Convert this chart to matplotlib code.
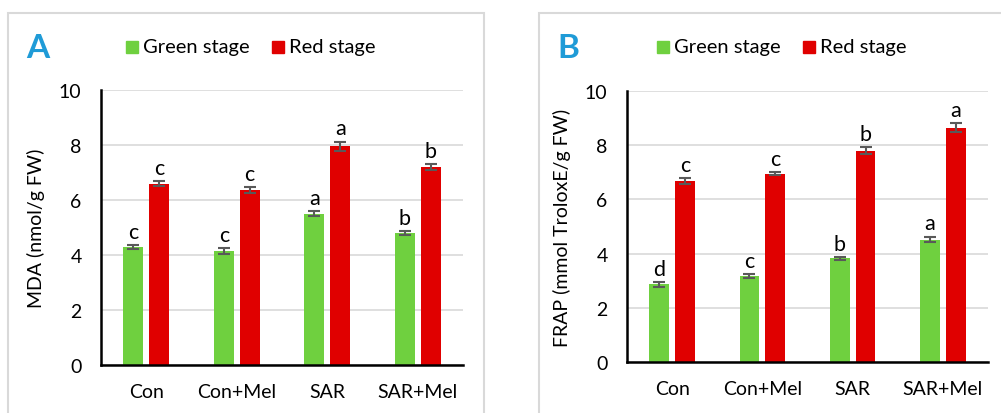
import numpy as np
import matplotlib.pyplot as plt
from matplotlib.patches import Rectangle

plt.rcParams['font.family'] = ['Lato', 'DejaVu Sans']

# treatments and measured means / errors
groups = ['Con', 'Con+Mel', 'SAR', 'SAR+Mel']

mda_green = [4.30, 4.15, 5.50, 4.80]
mda_red = [6.60, 6.36, 7.95, 7.20]
mda_green_err = [0.07, 0.10, 0.09, 0.07]
mda_red_err = [0.08, 0.10, 0.17, 0.10]
mda_green_lbl = ['c', 'c', 'a', 'b']
mda_red_lbl = ['c', 'c', 'a', 'b']

frap_green = [2.86, 3.17, 3.82, 4.52]
frap_red = [6.68, 6.95, 7.80, 8.65]
frap_green_err = [0.09, 0.08, 0.04, 0.11]
frap_red_err = [0.10, 0.06, 0.13, 0.17]
frap_green_lbl = ['d', 'c', 'b', 'a']
frap_red_lbl = ['c', 'c', 'b', 'a']

GREEN = '#6fd03f'
RED = '#e00000'
W, H = 1001, 414

fig = plt.figure(figsize=(W / 100, H / 100), dpi=100)

# light frames round each panel
for x0, x1 in [(8, 484), (539, 1010)]:
    fig.patches.append(Rectangle((x0 / W, -0.05), (x1 - x0) / W, 1.05 - 14 / H,
                                 transform=fig.transFigure, fill=False,
                                 edgecolor='#d9d9d9', linewidth=1.5))


def panel(box, green, red, gerr, rerr, glbl, rlbl, ylabel, letter, lx, leg_x):
    l, r, top, bot = box
    ax = fig.add_axes([l / W, 1 - bot / H, (r - l) / W, (bot - top) / H])
    x = np.arange(len(groups))
    bw, off = 0.22, 0.143
    ax.bar(x - off, green, bw, color=GREEN, zorder=2)
    ax.bar(x + off, red, bw, color=RED, zorder=2)
    ax.errorbar(x - off, green, yerr=gerr, fmt='none', ecolor='#595959',
                elinewidth=1.5, capsize=4, capthick=1.5, zorder=3)
    ax.errorbar(x + off, red, yerr=rerr, fmt='none', ecolor='#595959',
                elinewidth=1.5, capsize=4, capthick=1.5, zorder=3)
    for i in range(len(groups)):
        ax.text(x[i] - off, green[i] + gerr[i] + 0.12, glbl[i], ha='center',
                va='bottom', fontsize=15.5)
        ax.text(x[i] + off, red[i] + rerr[i] + 0.12, rlbl[i], ha='center',
                va='bottom', fontsize=15.5)
    ax.set_xlim(-0.5, 3.5)
    ax.set_ylim(0, 10)
    ax.set_yticks(range(0, 11, 2))
    ax.set_xticks(x)
    ax.set_xticklabels(groups, fontsize=14)
    ax.tick_params(axis='y', labelsize=14, length=0, pad=14)
    ax.tick_params(axis='x', length=0, pad=13)
    ax.yaxis.grid(True, color='#d9d9d9', linewidth=1.2, zorder=0)
    ax.set_axisbelow(True)
    for s in ['top', 'right']:
        ax.spines[s].set_visible(False)
    for s in ['left', 'bottom']:
        ax.spines[s].set_linewidth(1.8)
    ax.set_ylabel(ylabel, fontsize=14, labelpad=10)

    fig.text(lx / W, 1 - 48 / H, letter, color='#1f9bd7', fontsize=24,
             fontweight='bold', ha='center', va='center')
    # legend squares drawn by hand
    for k, (c, name) in enumerate([(GREEN, 'Green stage'), (RED, 'Red stage')]):
        sx = leg_x + k * 146
        fig.patches.append(Rectangle((sx / W, 1 - 54 / H), 12 / W, 12 / H,
                                     transform=fig.transFigure, color=c))
        fig.text((sx + 17) / W, 1 - 48 / H, name, fontsize=14.5,
                 ha='left', va='center')
    return ax


panel((101, 463, 91, 366), mda_green, mda_red, mda_green_err, mda_red_err,
      mda_green_lbl, mda_red_lbl, 'MDA (nmol/g FW)', 'A', 38, 126)
panel((627, 988, 92, 363), frap_green, frap_red, frap_green_err, frap_red_err,
      frap_green_lbl, frap_red_lbl, 'FRAP (mmol TroloxE/g FW)', 'B', 568, 657)

fig.savefig('out.png', dpi=100)
